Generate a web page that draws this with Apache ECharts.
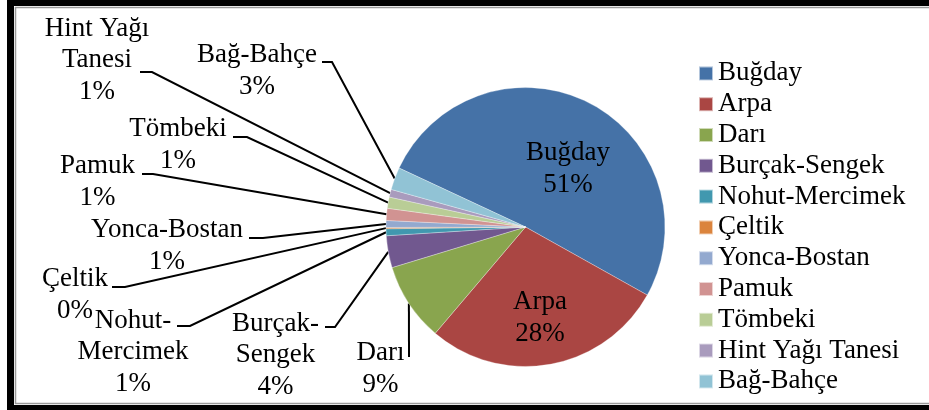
<!DOCTYPE html>
<html>
<head>
<meta charset="utf-8">
<script src="https://cdn.jsdelivr.net/npm/echarts@6/dist/echarts.min.js"></script>
<style>
  html, body { margin: 0; padding: 0; background: #fff; }
  #chart { width: 929px; height: 410px; }
</style>
</head>
<body>
<div id="chart"></div>
<script>
// dilim adlari (legend) ve grafikteki kirpilmis hali
var categories = ['Buğday', 'Arpa', 'Darı', 'Burçak-Sengek', 'Nohut-Mercimek', 'Çeltik',
  'Yonca-Bostan', 'Pamuk', 'Tömbeki', 'Hint Yağı Tanesi', 'Bağ-Bahçe'];
var labelNames = ['Buğday', 'Arpa', 'Darı', 'Burçak-\nSengek', 'Nohut-\nMercimek', 'Çeltik',
  'Yonca-Bostan', 'Pamuk', 'Tömbeki', 'Hint Yağı\nTanesi', 'Bağ-Bahçe'];
// pay (%)
var shares = [51.2, 28.1, 9.1, 3.7, 0.8, 0.15, 0.8, 1.4, 1.3, 0.9, 2.6];
var colors = ['#4572A7', '#AA4643', '#89A54E', '#71588F', '#4198AF', '#DB843D',
  '#93A9CF', '#D19392', '#B9CD96', '#A99BBD', '#91C3D5'];

// etiket yerlesimi: [merkez x, merkez y, kirilma x, kirilma y, uc x, uc y]
var labelSpots = [
  [568, 169],
  [540, 318],
  [380.5, 369, null, null, 409, 357],
  [275.5, 355, 335, 327, 325, 327],
  [133, 352, 190, 326, 177, 326],
  [75, 295, 125, 287, 112, 287],
  [167, 246, 263, 238, 249, 238],
  [97.5, 182, 153, 174, 142, 174],
  [178, 145, 247, 137, 233, 137],
  [97, 60, 152, 72, 140, 72],
  [257, 71, 332, 62, 322, 62]
];

var total = shares.reduce(function (a, b) { return a + b; }, 0);
var font = 'Liberation Serif';

var pieData = categories.map(function (name, i) {
  var item = { name: name, value: shares[i], itemStyle: { color: colors[i] } };
  if (i < 2) {
    item.label = { position: 'inside' };
    item.labelLine = { show: false };
  }
  return item;
});

var myChart = echarts.init(document.getElementById('chart'));

var option = {
  animation: false,
  backgroundColor: '#fff',
  color: colors,
  legend: {
    orient: 'vertical',
    left: 698,
    top: 58,
    padding: 0,
    itemGap: 0,
    itemWidth: 14,
    itemHeight: 14,
    icon: 'rect',
    data: categories,
    textStyle: { fontFamily: font, fontSize: 27, color: '#000', lineHeight: 30.8 }
  },
  graphic: [
    { type: 'rect', shape: { x: 7, y: 0, width: 922, height: 6 }, style: { fill: '#000' } },
    { type: 'rect', shape: { x: 7, y: 0, width: 7, height: 410 }, style: { fill: '#000' } },
    { type: 'rect', shape: { x: 7, y: 405, width: 922, height: 5 }, style: { fill: '#000' } },
    { type: 'line', shape: { x1: 15, y1: 7.5, x2: 929, y2: 7.5 }, style: { stroke: '#9a9a9a', lineWidth: 1.5 } },
    { type: 'line', shape: { x1: 15.5, y1: 7, x2: 15.5, y2: 404 }, style: { stroke: '#9a9a9a', lineWidth: 1.5 } },
    { type: 'line', shape: { x1: 15, y1: 403.5, x2: 929, y2: 403.5 }, style: { stroke: '#9a9a9a', lineWidth: 1.5 } }
  ],
  series: [{
    type: 'pie',
    center: [525.5, 227],
    radius: 139.5,
    startAngle: 155,
    clockwise: true,
    avoidLabelOverlap: false,
    itemStyle: { borderColor: 'rgba(255,255,255,0.6)', borderWidth: 0.5 },
    emphasis: { disabled: true },
    label: {
      show: true,
      position: 'outside',
      fontFamily: font,
      fontSize: 27,
      lineHeight: 31.5,
      color: '#000',
      align: 'center',
      formatter: function (p) {
        return labelNames[p.dataIndex] + '\n' + Math.round(p.value / total * 100) + '%';
      }
    },
    labelLine: {
      show: true,
      lineStyle: { color: '#000', width: 2 }
    },
    labelLayout: function (p) {
      var s = labelSpots[p.dataIndex];
      var out = { x: s[0], y: s[1], align: 'center', verticalAlign: 'middle' };
      if (s.length > 2 && p.labelLinePoints) {
        var edge = p.labelLinePoints[0];
        out.labelLinePoints = s[2] == null
          ? [edge, [s[4], s[5]]]
          : [edge, [s[2], s[3]], [s[4], s[5]]];
      }
      return out;
    },
    data: pieData
  }]
};

myChart.setOption(option);
</script>
</body>
</html>
